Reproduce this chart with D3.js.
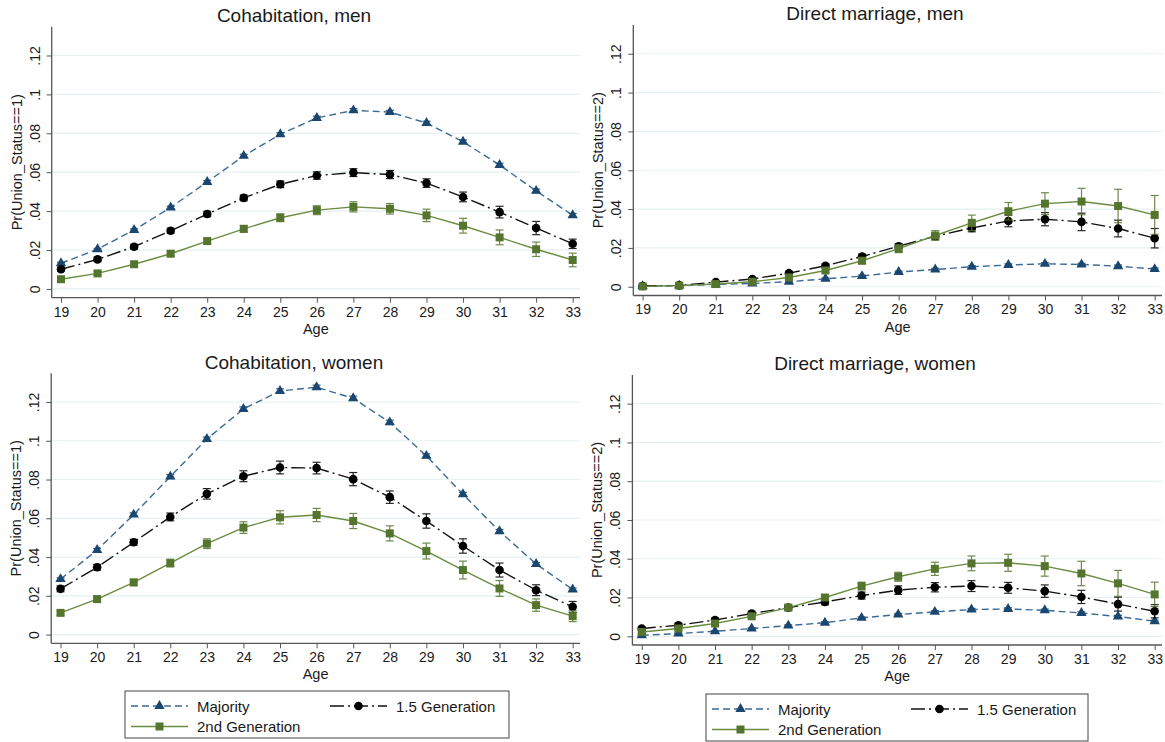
<!DOCTYPE html>
<html>
<head>
<meta charset="utf-8">
<script src="https://cdn.jsdelivr.net/npm/d3@7"></script>
<style>
    body { margin: 0; background: #fff; }
    text { font-family: "Liberation Sans", Arial, sans-serif; fill: #1a1a1a; }
</style>
</head>
<body>
<svg width="1165" height="742"></svg>
<script>
// ages on the x axis, y ticks
var ages = [19, 20, 21, 22, 23, 24, 25, 26, 27, 28, 29, 30, 31, 32, 33];
var yTicks = [0, 0.02, 0.04, 0.06, 0.08, 0.1, 0.12];
var yTickLabels = ["0", ".02", ".04", ".06", ".08", ".1", ".12"];
var seriesNames = ["Majority", "1.5 Generation", "2nd Generation"];

// Cohabitation, men
var cmMajority = [0.0132, 0.0204, 0.0303, 0.0419, 0.0550, 0.0684, 0.0795, 0.0879, 0.0918, 0.0909, 0.0853, 0.0757, 0.0637, 0.0504, 0.0379];
var cmMajorityCI = [0.0005, 0.0005, 0.0006, 0.0006, 0.0007, 0.0008, 0.0008, 0.0009, 0.0009, 0.0009, 0.0009, 0.0009, 0.0009, 0.0009, 0.0009];
var cmGen15 = [0.0101, 0.0152, 0.0217, 0.0299, 0.0385, 0.0468, 0.0538, 0.0583, 0.0598, 0.0588, 0.0544, 0.0473, 0.0395, 0.0313, 0.0232];
var cmGen15CI = [0.0010, 0.0011, 0.0012, 0.0013, 0.0014, 0.0015, 0.0017, 0.0019, 0.0020, 0.0021, 0.0022, 0.0025, 0.0030, 0.0034, 0.0024];
var cmGen2 = [0.0050, 0.0080, 0.0127, 0.0181, 0.0246, 0.0309, 0.0366, 0.0405, 0.0422, 0.0412, 0.0378, 0.0325, 0.0265, 0.0204, 0.0149];
var cmGen2CI = [0.0009, 0.0010, 0.0011, 0.0012, 0.0014, 0.0017, 0.0020, 0.0023, 0.0026, 0.0027, 0.0032, 0.0038, 0.0038, 0.0037, 0.0035];

// Direct marriage, men
var dmMajority = [0.0003, 0.0006, 0.0012, 0.0017, 0.0026, 0.0041, 0.0055, 0.0076, 0.0089, 0.0103, 0.0112, 0.0118, 0.0115, 0.0106, 0.0091];
var dmMajorityCI = [0.0002, 0.0002, 0.0003, 0.0003, 0.0004, 0.0004, 0.0005, 0.0005, 0.0006, 0.0006, 0.0006, 0.0006, 0.0006, 0.0006, 0.0006];
var dmGen15 = [0.0004, 0.0007, 0.0024, 0.0040, 0.0070, 0.0108, 0.0156, 0.0209, 0.0260, 0.0303, 0.0339, 0.0348, 0.0334, 0.0300, 0.0250];
var dmGen15CI = [0.0003, 0.0004, 0.0006, 0.0007, 0.0009, 0.0010, 0.0012, 0.0013, 0.0015, 0.0020, 0.0030, 0.0034, 0.0045, 0.0043, 0.0050];
var dmGen2 = [0.0002, 0.0006, 0.0014, 0.0026, 0.0048, 0.0084, 0.0134, 0.0196, 0.0264, 0.0329, 0.0389, 0.0428, 0.0439, 0.0416, 0.0370];
var dmGen2CI = [0.0003, 0.0004, 0.0006, 0.0007, 0.0009, 0.0011, 0.0015, 0.0020, 0.0025, 0.0040, 0.0045, 0.0056, 0.0068, 0.0086, 0.0100];

// Cohabitation, women
var cwMajority = [0.0286, 0.0436, 0.0619, 0.0815, 0.1009, 0.1164, 0.1257, 0.1276, 0.1219, 0.1095, 0.0922, 0.0724, 0.0533, 0.0364, 0.0233];
var cwMajorityCI = [0.0007, 0.0008, 0.0009, 0.0010, 0.0010, 0.0011, 0.0011, 0.0011, 0.0011, 0.0011, 0.0010, 0.0010, 0.0009, 0.0008, 0.0007];
var cwGen15 = [0.0236, 0.0347, 0.0476, 0.0607, 0.0726, 0.0817, 0.0862, 0.0859, 0.0802, 0.0709, 0.0586, 0.0457, 0.0333, 0.0229, 0.0143];
var cwGen15CI = [0.0015, 0.0015, 0.0015, 0.0020, 0.0027, 0.0028, 0.0033, 0.0030, 0.0034, 0.0032, 0.0037, 0.0037, 0.0036, 0.0028, 0.0028];
var cwGen2 = [0.0112, 0.0183, 0.0269, 0.0369, 0.0469, 0.0552, 0.0605, 0.0617, 0.0586, 0.0522, 0.0431, 0.0333, 0.0238, 0.0152, 0.0095];
var cwGen2CI = [0.0012, 0.0014, 0.0016, 0.0020, 0.0025, 0.0030, 0.0034, 0.0034, 0.0039, 0.0039, 0.0041, 0.0046, 0.0041, 0.0032, 0.0028];

// Direct marriage, women
var dwMajority = [0.0005, 0.0014, 0.0026, 0.0040, 0.0055, 0.0070, 0.0095, 0.0112, 0.0126, 0.0138, 0.0141, 0.0134, 0.0120, 0.0102, 0.0078];
var dwMajorityCI = [0.0002, 0.0003, 0.0003, 0.0004, 0.0004, 0.0005, 0.0005, 0.0006, 0.0006, 0.0006, 0.0006, 0.0006, 0.0006, 0.0006, 0.0005];
var dwGen15 = [0.0040, 0.0057, 0.0084, 0.0117, 0.0148, 0.0177, 0.0210, 0.0238, 0.0253, 0.0259, 0.0250, 0.0233, 0.0203, 0.0166, 0.0129];
var dwGen15CI = [0.0008, 0.0009, 0.0010, 0.0012, 0.0013, 0.0015, 0.0018, 0.0022, 0.0024, 0.0028, 0.0028, 0.0032, 0.0034, 0.0036, 0.0034];
var dwGen2 = [0.0022, 0.0040, 0.0066, 0.0103, 0.0148, 0.0200, 0.0259, 0.0307, 0.0348, 0.0376, 0.0379, 0.0362, 0.0324, 0.0273, 0.0216];
var dwGen2CI = [0.0007, 0.0008, 0.0009, 0.0010, 0.0012, 0.0015, 0.0020, 0.0023, 0.0034, 0.0038, 0.0044, 0.0052, 0.0063, 0.0067, 0.0063];

// look of the three series
var styles = [
    { line: "#3b6a96", mark: "#1a476f", dash: "7,4", symbol: d3.symbolTriangle, size: 46 },
    { line: "#111111", mark: "#000000", dash: "14,4,2,4", symbol: d3.symbolCircle, size: 58 },
    { line: "#6a8c40", mark: "#55752f", dash: null, symbol: d3.symbolSquare, size: 64 }
];

// panel boxes (plot region in px)
var panels = [
    { title: "Cohabitation, men", ylab: "Pr(Union_Status==1)", left: 51.7, right: 580, top: 26.7, bottom: 297.7, titleX: 294, titleY: 21.5,
      series: [[cmMajority, cmMajorityCI], [cmGen15, cmGen15CI], [cmGen2, cmGen2CI]], legend: null },
    { title: "Direct marriage, men", ylab: "Pr(Union_Status==2)", left: 633.3, right: 1162, top: 25, bottom: 295.5, titleX: 875, titleY: 19.5,
      series: [[dmMajority, dmMajorityCI], [dmGen15, dmGen15CI], [dmGen2, dmGen2CI]], legend: null },
    { title: "Cohabitation, women", ylab: "Pr(Union_Status==1)", left: 51.2, right: 580, top: 373.3, bottom: 643.3, titleX: 294, titleY: 368.5,
      series: [[cwMajority, cwMajorityCI], [cwGen15, cwGen15CI], [cwGen2, cwGen2CI]], legend: { x: 125, y: 691, w: 384, h: 47 } },
    { title: "Direct marriage, women", ylab: "Pr(Union_Status==2)", left: 632.4, right: 1162, top: 375, bottom: 645, titleX: 875, titleY: 370,
      series: [[dwMajority, dwMajorityCI], [dwGen15, dwGen15CI], [dwGen2, dwGen2CI]], legend: { x: 706, y: 694, w: 382, h: 47 } }
];

var svg = d3.select("svg");

panels.forEach(function (p) {
    var g = svg.append("g");

    var x = d3.scaleLinear().domain([18.745, 33.2]).range([p.left, p.right]);
    var y = d3.scaleLinear().domain([-0.0045, 0.1348]).range([p.bottom, p.top]);

    // grid
    g.selectAll(".grid").data(yTicks).enter().append("line")
        .attr("x1", p.left).attr("x2", p.right)
        .attr("y1", function (d) { return y(d); }).attr("y2", function (d) { return y(d); })
        .attr("stroke", "#e6eff1").attr("stroke-width", 1.2);

    // y axis
    var yAxis = d3.axisLeft(y).tickValues(yTicks).tickSize(5).tickFormat(function (d, i) { return yTickLabels[i]; });
    var ya = g.append("g").attr("transform", "translate(" + p.left + ",0)").call(yAxis);
    ya.select(".domain").remove();
    ya.selectAll(".tick line").attr("stroke", "#555");
    ya.selectAll(".tick text")
        .attr("x", 0).attr("dy", 0)
        .attr("transform", "translate(-12,0) rotate(-90)")
        .attr("text-anchor", "middle")
        .style("font-size", "14px").style("font-family", "Liberation Sans, Arial, sans-serif").attr("fill", "#1a1a1a");
    g.append("line").attr("x1", p.left).attr("x2", p.left).attr("y1", p.top).attr("y2", p.bottom)
        .attr("stroke", "#555").attr("stroke-width", 1.3);

    // x axis
    var xAxis = d3.axisBottom(x).tickValues(ages).tickSize(5).tickFormat(d3.format("d"));
    var xa = g.append("g").attr("transform", "translate(0," + p.bottom + ")").call(xAxis);
    xa.select(".domain").remove();
    xa.selectAll(".tick line").attr("stroke", "#555");
    xa.selectAll(".tick text").attr("y", 9)
        .style("font-size", "14px").style("font-family", "Liberation Sans, Arial, sans-serif").attr("fill", "#1a1a1a");
    g.append("line").attr("x1", p.left).attr("x2", p.right).attr("y1", p.bottom).attr("y2", p.bottom)
        .attr("stroke", "#555").attr("stroke-width", 1.3);

    // labels
    g.append("text").attr("x", (p.left + p.right) / 2).attr("y", p.bottom + 36)
        .attr("text-anchor", "middle").style("font-size", "14.5px").text("Age");
    g.append("text").attr("transform", "translate(" + (p.left - 30) + "," + ((p.top + p.bottom) / 2) + ") rotate(-90)")
        .attr("text-anchor", "middle").style("font-size", "14.5px").text(p.ylab);
    g.append("text").attr("x", p.titleX).attr("y", p.titleY)
        .attr("text-anchor", "middle").style("font-size", "19px").text(p.title);

    // series
    p.series.forEach(function (s, k) {
        var st = styles[k];
        var vals = s[0], ci = s[1];
        var pts = ages.map(function (a, i) { return { age: a, v: vals[i], lo: vals[i] - ci[i], hi: vals[i] + ci[i] }; });

        var line = d3.line().x(function (d) { return x(d.age); }).y(function (d) { return y(d.v); });
        g.append("path").datum(pts).attr("d", line)
            .attr("fill", "none").attr("stroke", st.line).attr("stroke-width", 1.4)
            .attr("stroke-dasharray", st.dash);

        var eb = g.append("g").attr("stroke", st.mark).attr("stroke-width", 1.2).attr("opacity", 0.85);
        eb.selectAll("line.v").data(pts).enter().append("line")
            .attr("x1", function (d) { return x(d.age); }).attr("x2", function (d) { return x(d.age); })
            .attr("y1", function (d) { return y(d.lo); }).attr("y2", function (d) { return y(d.hi); });
        eb.selectAll("line.t").data(pts).enter().append("line")
            .attr("x1", function (d) { return x(d.age) - 4; }).attr("x2", function (d) { return x(d.age) + 4; })
            .attr("y1", function (d) { return y(d.hi); }).attr("y2", function (d) { return y(d.hi); });
        eb.selectAll("line.b").data(pts).enter().append("line")
            .attr("x1", function (d) { return x(d.age) - 4; }).attr("x2", function (d) { return x(d.age) + 4; })
            .attr("y1", function (d) { return y(d.lo); }).attr("y2", function (d) { return y(d.lo); });

        g.selectAll(".m" + k).data(pts).enter().append("path")
            .attr("d", d3.symbol().type(st.symbol).size(st.size))
            .attr("transform", function (d) { return "translate(" + x(d.age) + "," + y(d.v) + ")"; })
            .attr("fill", st.mark);
    });

    // legend
    if (p.legend) {
        var L = p.legend;
        var lg = svg.append("g").attr("transform", "translate(" + L.x + "," + L.y + ")");
        lg.append("rect").attr("width", L.w).attr("height", L.h)
            .attr("fill", "#fff").attr("stroke", "#444").attr("stroke-width", 1);
        var spots = [[6, 15], [205, 15], [6, 35.5]];
        seriesNames.forEach(function (name, k) {
            var st = styles[k];
            var sx = spots[k][0], sy = spots[k][1];
            lg.append("line").attr("x1", sx).attr("x2", sx + 57).attr("y1", sy).attr("y2", sy)
                .attr("stroke", st.line).attr("stroke-width", 1.4).attr("stroke-dasharray", st.dash);
            lg.append("path").attr("d", d3.symbol().type(st.symbol).size(st.size))
                .attr("transform", "translate(" + (sx + 28.5) + "," + sy + ")").attr("fill", st.mark);
            lg.append("text").attr("x", sx + 66).attr("y", sy + 5.5).style("font-size", "15px").text(name);
        });
    }
});
</script>
</body>
</html>
